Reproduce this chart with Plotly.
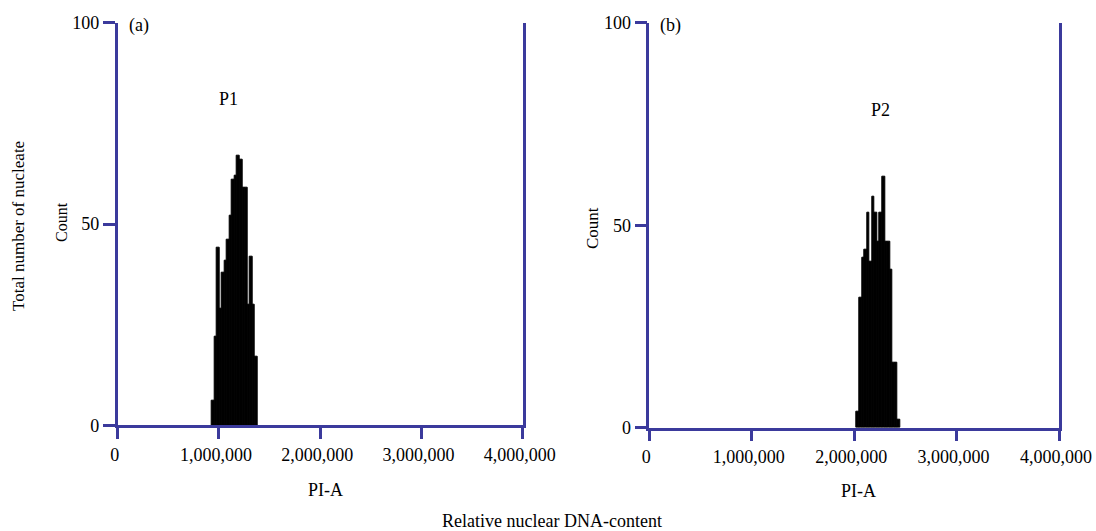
import plotly.graph_objects as go

# ---------------- data ----------------
tick_vals_x = [0, 1000000, 2000000, 3000000, 4000000]
tick_vals_y = [0, 50, 100]

bin_width = 25000

# Panel (a) histogram: bin centers (PI-A) and counts
a_centers = [942500, 967500, 992500, 1017500, 1042500, 1067500, 1092500, 1117500,
             1142500, 1167500, 1192500, 1217500, 1242500, 1267500, 1292500, 1317500,
             1342500, 1367500]
a_counts = [6, 22, 44, 29, 38, 41, 46, 52, 61, 62, 67, 66, 59, 59, 30, 42, 30, 17]

# Panel (b) histogram
b_centers = [2037500, 2062500, 2087500, 2112500, 2137500, 2162500, 2187500, 2212500,
             2237500, 2262500, 2287500, 2312500, 2337500, 2362500, 2387500, 2412500,
             2437500]
b_counts = [4, 32, 42, 44, 53, 41, 57, 53, 46, 53, 62, 46, 46, 39, 16, 16, 2]

# ---------------- style ----------------
W, H = 1096, 531
AX = "#3b3a9c"
FONT = "Liberation Serif"

def px(x):   # window pixel -> paper x
    return x / W

def py(y):   # window pixel -> paper y
    return 1 - y / H

fig = go.Figure()
fig.add_trace(go.Bar(x=a_centers, y=a_counts, width=bin_width,
                     marker=dict(color="black", line=dict(color="black", width=1)),
                     xaxis="x", yaxis="y", showlegend=False, hoverinfo="skip"))
fig.add_trace(go.Bar(x=b_centers, y=b_counts, width=bin_width,
                     marker=dict(color="black", line=dict(color="black", width=1)),
                     xaxis="x2", yaxis="y2", showlegend=False, hoverinfo="skip"))

def xax(domain, anchor):
    return dict(domain=domain, anchor=anchor, range=[0, 4000000], automargin=False,
                tickvals=tick_vals_x, tickformat=",d", ticks="outside",
                ticklen=11, tickwidth=2.5, tickcolor=AX, ticklabelshift=-3,
                showline=True, linecolor=AX, linewidth=2.5,
                showgrid=False, zeroline=False, fixedrange=True,
                tickfont=dict(family=FONT, size=18, color="black"))

def yax(domain, anchor):
    return dict(domain=domain, anchor=anchor, range=[0, 100], automargin=False,
                tickvals=tick_vals_y, ticks="outside",
                ticklen=12, tickwidth=2.5, tickcolor=AX,
                showline=True, mirror=True, linecolor=AX, linewidth=2.5,
                showgrid=False, zeroline=False, fixedrange=True,
                tickfont=dict(family=FONT, size=18, color="black"))

fig.update_layout(
    width=W, height=H,
    margin=dict(l=0, r=0, t=0, b=0, pad=0),
    paper_bgcolor="white", plot_bgcolor="white",
    bargap=0,
    xaxis=xax([px(117.7), px(522.7)], "y"),
    yaxis=yax([py(425.3), py(22.7)], "x"),
    xaxis2=xax([px(649.3), px(1059.0)], "y2"),
    yaxis2=yax([py(427.7), py(22.7)], "x2"),
    font=dict(family=FONT, color="black"),
)

def ann(text, x, y, size=18, angle=0, xref="paper", yref="paper", xanchor="center"):
    return dict(text=text, x=x, y=y, xref=xref, yref=yref, showarrow=False,
                xanchor=xanchor, yanchor="middle", textangle=angle,
                font=dict(family=FONT, size=size, color="black"))

fig.update_layout(annotations=[
    ann("(a)", 88000, 99.3, xref="x", yref="y", xanchor="left"),
    ann("P1", 1094000, 81, xref="x", yref="y"),
    ann("(b)", 88000, 99.2, xref="x2", yref="y2", xanchor="left"),
    ann("P2", 2253000, 78.4, xref="x2", yref="y2"),
    ann("Total number of nucleate", px(18), py(226), size=17, angle=-90),
    ann("Count", px(62), py(222), size=16, angle=-90),
    ann("Count", px(592), py(228), size=17, angle=-90),
    ann("PI-A", px(325), py(490)),
    ann("PI-A", px(858), py(491)),
    ann("Relative nuclear DNA-content", px(552), py(521), size=18),
])

# remove the default page margin so the 1096x531 figure fills the window exactly
post = "document.body.style.margin='0';document.body.style.overflow='hidden';"
fig.write_html("out.html", post_script=post, config={"displayModeBar": False})
